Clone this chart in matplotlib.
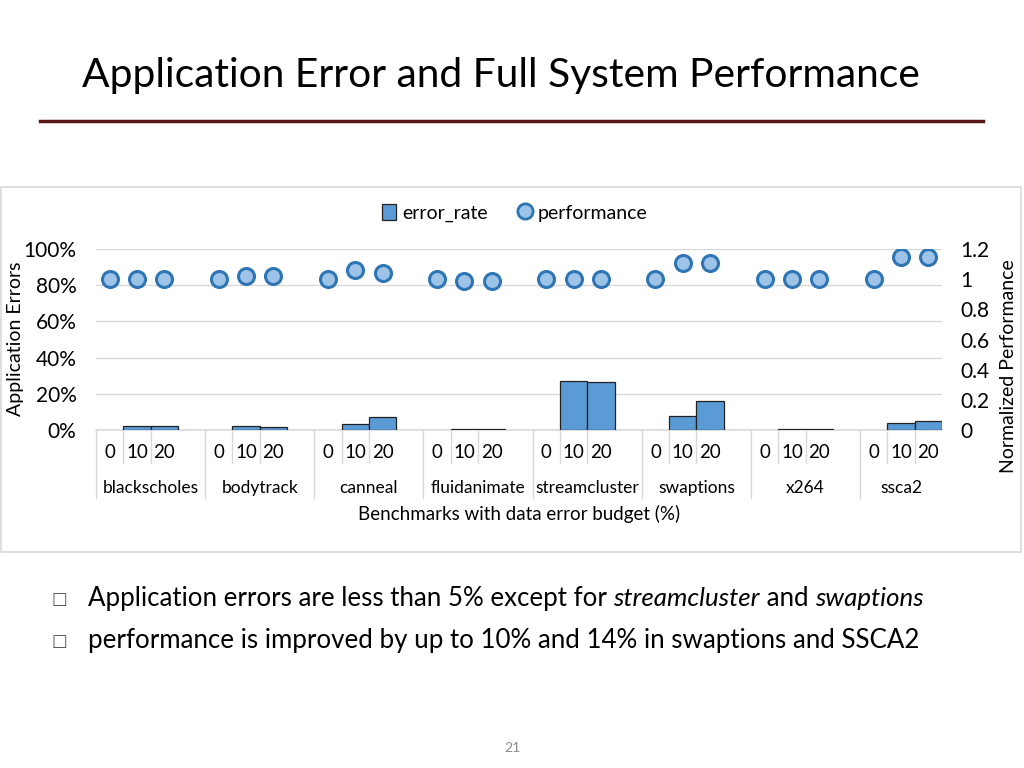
import matplotlib
matplotlib.use("Agg")
import matplotlib.pyplot as plt
import matplotlib.transforms as mtransforms
from matplotlib.patches import Rectangle
from matplotlib.lines import Line2D
from matplotlib.ticker import FuncFormatter

plt.rcParams['font.family'] = ['Lato', 'DejaVu Sans']

# ---------------- data ----------------
benchmarks = ["blackscholes", "bodytrack", "canneal", "fluidanimate",
              "streamcluster", "swaptions", "x264", "ssca2"]
budgets = ["0", "10", "20"]
# error rate (%) per benchmark for budgets 0, 10, 20
error_rate = [
    [0.0, 2.0, 2.0],
    [0.0, 2.2, 1.7],
    [0.0, 3.5, 7.2],
    [0.0, 0.4, 0.4],
    [0.0, 26.9, 26.3],
    [0.0, 7.8, 15.9],
    [0.0, 0.7, 0.7],
    [0.0, 3.9, 4.8],
]
# normalized performance per benchmark for budgets 0, 10, 20
performance = [
    [1.000, 1.004, 1.004],
    [1.000, 1.022, 1.022],
    [1.000, 1.058, 1.038],
    [1.000, 0.989, 0.989],
    [0.998, 1.002, 1.004],
    [0.998, 1.104, 1.104],
    [0.998, 1.000, 1.000],
    [0.998, 1.147, 1.147],
]
left_ticks = [0, 20, 40, 60, 80, 100]
right_ticks = [0, 0.2, 0.4, 0.6, 0.8, 1.0, 1.2]

title = "Application Error and Full System Performance"
bullets = [
    [("Application errors are less than 5% except for ", "normal"),
     ("streamcluster", "italic"), (" and ", "normal"), ("swaptions", "italic")],
    [("performance is improved by up to 10% and 14% in swaptions and SSCA2", "normal")],
]

# ---------------- figure ----------------
W, H = 1024, 768
fig = plt.figure(figsize=(W / 100, H / 100), dpi=100)
fig.patch.set_facecolor("white")

def fx(x):
    return x / W

def fy(y):
    return 1 - y / H

# title and rule
fig.text(fx(82), fy(87), title, fontsize=29.3, ha="left", va="baseline", color="black")
fig.add_artist(Line2D([fx(40), fx(983)], [fy(121), fy(121)], color="#5a1616", lw=2.5))

# chart frame
fig.add_artist(Rectangle((fx(1), fy(552)), fx(1021) - fx(1), fy(187) - fy(552),
                         transform=fig.transFigure, fill=False, ec="#d9d9d9", lw=1.2))

# axes
ax = fig.add_axes([fx(96), fy(430), fx(942) - fx(96), fy(249) - fy(430)])
ax2 = ax.twinx()

positions = []
err_vals = []
perf_vals = []
for g in range(len(benchmarks)):
    for i in range(len(budgets)):
        positions.append(4 * g + i)
        err_vals.append(error_rate[g][i])
        perf_vals.append(performance[g][i])

nslots = 4 * len(benchmarks) - 1
ax.set_xlim(-0.5, nslots - 0.5)
ax.set_ylim(0, 100)
ax2.set_ylim(0, 1.2)

bp = [p for p, v in zip(positions, err_vals) if v > 0]
bv = [v for v in err_vals if v > 0]
ax.bar(bp, bv, width=1.0, color="#5b9bd5", edgecolor="#222222", linewidth=0.9, zorder=3)

ax2.plot(positions, perf_vals, "o", ms=11.5, mfc="#9dc3e6", mec="#2e75b6", mew=2.2,
         ls="none", zorder=4)

for a in (ax, ax2):
    for s in a.spines.values():
        s.set_visible(False)
ax.spines["bottom"].set_visible(True)
ax.spines["bottom"].set_color("#d9d9d9")
ax.spines["bottom"].set_linewidth(1.2)

ax.set_yticks(left_ticks)
ax.yaxis.set_major_formatter(FuncFormatter(lambda v, p: f"{int(v)}%"))
ax.tick_params(axis="y", length=0, pad=14, labelsize=15)
ax.yaxis.grid(True, color="#d9d9d9", lw=1)
ax.set_axisbelow(True)
ax.set_xticks([])

ax2.set_yticks(right_ticks)
ax2.yaxis.set_major_formatter(FuncFormatter(lambda v, p: f"{v:g}"))
ax2.tick_params(axis="y", length=0, pad=13, labelsize=15)

# category axis (two levels)
trans = mtransforms.blended_transform_factory(ax.transData, fig.transFigure)
for k in range(nslots + 1):
    xb = k - 0.5
    is_group_edge = (k % 4 == 0) or k == nslots
    if k % 4 == 3:
        continue
    ybot = 498 if is_group_edge else 463
    ax.add_artist(Line2D([xb, xb], [fy(430), fy(ybot)], transform=trans,
                         color="#d9d9d9", lw=1, clip_on=False))
for p, (g, i) in zip(positions, [(g, i) for g in range(len(benchmarks)) for i in range(3)]):
    ax.text(p, fy(458), budgets[i], transform=trans, ha="center", va="baseline", fontsize=13.5)
for g, name in enumerate(benchmarks):
    start = 4 * g - 0.5
    end = min(4 * g + 3.5, nslots - 0.5)
    ax.text((start + end) / 2, fy(493), name, transform=trans, ha="center", va="baseline",
            fontsize=12.5)

fig.text(fx(519), fy(520), "Benchmarks with data error budget (%)", ha="center", va="baseline",
         fontsize=13.5)
fig.text(fx(16), fy(339), "Application Errors", rotation=90, ha="center", va="center",
         fontsize=14)
fig.text(fx(1008), fy(366), "Normalized Performance", rotation=90, ha="center", va="center",
         fontsize=14)

# legend
handles = [Rectangle((0, 0), 1, 1, fc="#5b9bd5", ec="#222222", lw=0.9),
           Line2D([], [], marker="o", ls="none", ms=11, mfc="#9dc3e6", mec="#2e75b6", mew=2)]
fig.legend(handles, ["error_rate", "performance"], loc="center",
           bbox_to_anchor=(fx(515), fy(213)), ncol=2, frameon=False, fontsize=14,
           handlelength=0.7, handleheight=0.9, handletextpad=0.3, columnspacing=1.6)

# bullets
renderer = fig.canvas.get_renderer()
for row, (yline, parts) in enumerate(zip([606, 648], bullets)):
    fig.text(fx(59), fy(yline - 7), "\u25a1", family="DejaVu Sans", fontsize=12, color="#555555",
             ha="center", va="center")
    x = 88
    for txt, style in parts:
        t = fig.text(fx(x), fy(yline), txt, fontsize=18.6, style=style, ha="left",
                     va="baseline", color="black")
        bb = t.get_window_extent(renderer=renderer)
        x += bb.width

fig.text(fx(512), fy(748), "21", fontsize=10, color="#8c8c8c", ha="center", va="center")

fig.savefig("out.png", dpi=100)
